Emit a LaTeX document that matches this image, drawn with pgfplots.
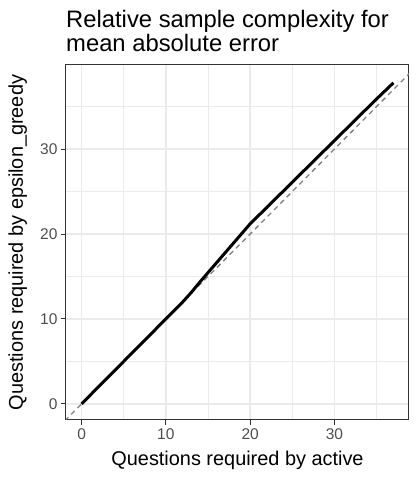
\documentclass[border=0pt]{standalone}
\usepackage{fontspec}
\setmainfont{Liberation Sans}
\usepackage{pgfplots}
\pgfplotsset{compat=1.18}

\definecolor{gridc}{HTML}{EBEBEB}
\definecolor{tickc}{HTML}{4D4D4D}
\definecolor{framec}{HTML}{333333}
\definecolor{refc}{HTML}{7F7F7F}

\begin{document}
\begin{tikzpicture}
\useasboundingbox (0,0) rectangle (420pt,480pt);
\begin{axis}[
    at={(66pt,60pt)}, anchor=south west,
    scale only axis, width=343pt, height=355pt,
    xmin=-1.85, xmax=38.85, ymin=-1.9, ymax=39.9,
    xtick={0,10,20,30}, ytick={0,10,20,30},
    minor xtick={5,15,25,35}, minor ytick={5,15,25,35},
    grid=both,
    major grid style={gridc, line width=1.6pt},
    minor grid style={gridc, line width=0.8pt},
    axis line style={framec, line width=1pt},
    tick style={framec, line width=1pt},
    major tick length=5pt, minor tick length=0pt,
    tick align=outside,
    xtick pos=left, ytick pos=left,
    /pgf/number format/assume math mode=true,
    tick label style={tickc, font=\fontsize{15.5}{18}\selectfont},
    label style={font=\fontsize{19.9}{23}\selectfont},
    xlabel={Questions required by active},
    ylabel={Questions required by epsilon\_greedy},
    x label style={at={(axis description cs:0.5,-0.1268)}, anchor=base},
    y label style={at={(axis description cs:-0.1254,0.5)}, anchor=base},
]
% reference diagonal y = x
\addplot[refc, line width=1.3pt, dash pattern=on 5pt off 4pt] coordinates {(-5,-5) (45,45)};
% epsilon_greedy vs active
\addplot[black, line width=3pt, line join=round] coordinates {
    (0,0) (5,5) (10,10) (12,12.0) (13,13.1) (14,14.3) (16,16.6)
    (18,18.9) (20,21.2) (22,23.15) (25,26.1) (30,31.0) (35,35.9) (37,37.8)
};
\end{axis}
\node[anchor=base west, inner sep=0pt, font=\fontsize{23.8}{27}\selectfont]
    at (66pt,452.7pt) {Relative sample complexity for};
\node[anchor=base west, inner sep=0pt, font=\fontsize{23.8}{27}\selectfont]
    at (66pt,428.3pt) {mean absolute error};
\end{tikzpicture}
\end{document}
